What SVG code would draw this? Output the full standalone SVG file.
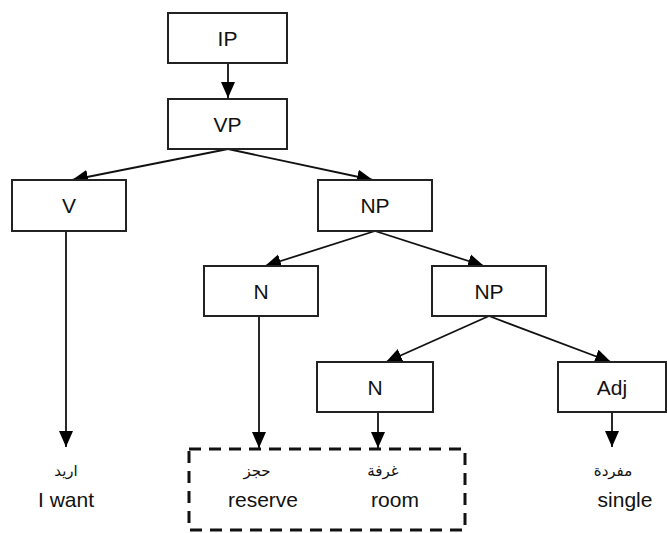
<svg xmlns="http://www.w3.org/2000/svg" width="667" height="533" viewBox="0 0 667 533">
<defs>
<marker id="ah" viewBox="0 0 16 16" refX="16" refY="8" markerWidth="16" markerHeight="16" markerUnits="userSpaceOnUse" orient="auto">
<path d="M0,1 L16,8 L0,15 z" fill="#000"/>
</marker>
<style>
.box{fill:#fff;stroke:#222;stroke-width:2}
.lbl{font-family:"Liberation Sans",Arial,sans-serif;font-size:21px;fill:#111;text-anchor:middle}
.ar{font-family:"DejaVu Sans","Noto Sans",sans-serif;font-size:15px;fill:#111;text-anchor:middle}
.en{font-family:"Liberation Sans",Arial,sans-serif;font-size:21px;fill:#111;text-anchor:middle}
.c{stroke:#111;stroke-width:1.8;fill:none}
</style>
</defs>
<rect width="667" height="533" fill="#fff"/>
<g id="connectors">
<line class="c" x1="228" y1="63" x2="228" y2="98" marker-end="url(#ah)"/>
<line class="c" x1="228" y1="149" x2="72" y2="180" marker-end="url(#ah)"/>
<line class="c" x1="228" y1="149" x2="373" y2="180" marker-end="url(#ah)"/>
<line class="c" x1="66" y1="231" x2="66" y2="447" marker-end="url(#ah)"/>
<line class="c" x1="375" y1="231" x2="265" y2="266" marker-end="url(#ah)"/>
<line class="c" x1="375" y1="231" x2="484" y2="266" marker-end="url(#ah)"/>
<line class="c" x1="259" y1="316" x2="259" y2="448" marker-end="url(#ah)"/>
<line class="c" x1="489" y1="316" x2="386" y2="362" marker-end="url(#ah)"/>
<line class="c" x1="489" y1="316" x2="611" y2="362" marker-end="url(#ah)"/>
<line class="c" x1="378" y1="412" x2="378" y2="448" marker-end="url(#ah)"/>
<line class="c" x1="612" y1="412" x2="612" y2="447" marker-end="url(#ah)"/>
</g>
<g id="IP"><rect class="box" x="168" y="13" width="119" height="50"/><text class="lbl" x="227.5" y="46">IP</text></g>
<g id="VP"><rect class="box" x="168" y="99" width="119" height="50"/><text class="lbl" x="227.5" y="132">VP</text></g>
<g id="V"><rect class="box" x="12" y="180" width="114" height="51"/><text class="lbl" x="69" y="213">V</text></g>
<g id="NP1"><rect class="box" x="318" y="180" width="114" height="51"/><text class="lbl" x="375" y="213">NP</text></g>
<g id="N1"><rect class="box" x="204" y="266" width="114" height="50"/><text class="lbl" x="261" y="299">N</text></g>
<g id="NP2"><rect class="box" x="432" y="266" width="114" height="50"/><text class="lbl" x="489" y="299">NP</text></g>
<g id="N2"><rect class="box" x="317" y="362" width="116" height="50"/><text class="lbl" x="375" y="395">N</text></g>
<g id="Adj"><rect class="box" x="558" y="362" width="108" height="50"/><text class="lbl" x="612" y="395">Adj</text></g>
<g id="group"><rect x="189" y="449" width="276" height="81" fill="none" stroke="#111" stroke-width="3" stroke-dasharray="12,8"/></g>
<g id="w1"><text class="ar" x="66" y="476" direction="rtl">اريد</text><text class="en" x="66" y="507">I want</text></g>
<g id="w2"><text class="ar" x="257" y="476" direction="rtl">حجز</text><text class="en" x="263" y="507">reserve</text></g>
<g id="w3"><text class="ar" x="383" y="476" direction="rtl">غرفة</text><text class="en" x="395" y="507">room</text></g>
<g id="w4"><text class="ar" x="613" y="476" direction="rtl">مفردة</text><text class="en" x="625" y="507">single</text></g>
</svg>
